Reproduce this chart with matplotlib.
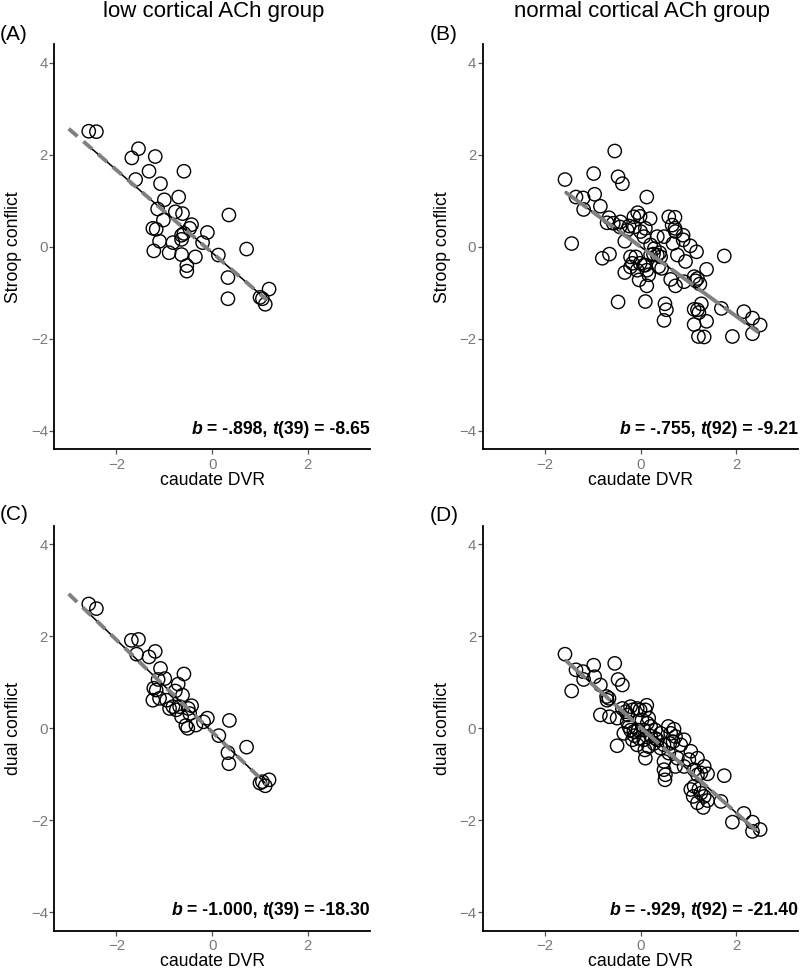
import matplotlib
matplotlib.use('Agg')
import matplotlib.pyplot as plt
import numpy as np
from matplotlib.offsetbox import TextArea, HPacker, AnchoredOffsetbox

plt.rcParams['font.family'] = ['Liberation Sans', 'DejaVu Sans']

# ---- data (z-scores) ----
# (A) low cortical ACh group: caudate DVR vs Stroop conflict
low_x_a = [-2.58, -2.42, -1.54, -1.68, -1.19, -1.32, -0.59, -1.60, -1.08, -1.00,
           -0.70, -1.14, -0.77, -0.62, 0.35, -1.02, -0.43, -1.24, -1.17, -0.47,
           -0.10, -0.64, -1.10, -0.82, -0.64, -0.20, -1.22, -0.90, -0.64, -0.35,
           0.13, 0.72, -0.53, -0.53, 0.33, 0.33, 1.19, 1.05, 1.11, -0.59, 1.00]
stroop_low = [2.51, 2.50, 2.13, 1.93, 1.96, 1.64, 1.64, 1.46, 1.37, 1.02,
              1.08, 0.82, 0.76, 0.72, 0.69, 0.58, 0.48, 0.40, 0.38, 0.40,
              0.31, 0.25, 0.12, 0.09, 0.16, 0.09, -0.09, -0.13, -0.17, -0.22,
              -0.18, -0.05, -0.41, -0.53, -0.67, -1.13, -0.92, -1.13, -1.25, 0.29, -1.10]

# (C) low cortical ACh group: caudate DVR vs dual conflict
low_x_c = [-2.58, -2.42, -1.69, -1.54, -1.58, -1.32, -1.19, -1.08, -0.99, -1.13,
           -0.59, -0.71, -0.77, -1.22, -1.17, -1.24, -1.10, -0.62, -0.89, -0.82,
           -0.68, -0.64, -0.43, -0.50, -0.55, -0.51, -0.34, -0.18, -0.10, 0.36,
           0.14, 0.72, 0.33, 0.35, 1.05, 1.19, 1.11, -0.95, -0.47, 1.00, -0.75]
dual_low = [2.70, 2.60, 1.91, 1.93, 1.61, 1.55, 1.67, 1.30, 1.08, 1.06,
            1.18, 0.96, 0.81, 0.87, 0.83, 0.61, 0.65, 0.72, 0.43, 0.47,
            0.47, 0.25, 0.49, 0.43, 0.06, 0.00, 0.07, 0.14, 0.22, 0.17,
            -0.16, -0.41, -0.53, -0.77, -1.16, -1.12, -1.25, 0.61, 0.32, -1.19, 0.40]

# (B) normal cortical ACh group: caudate DVR vs Stroop conflict
norm_x_b = [-1.58, -1.44, -1.35, -1.20, -1.19, -0.98, -0.96, -0.84, -0.54, -0.47,
            -0.38, 0.13, -0.66, -0.70, -0.57, -0.43, -0.28, -0.14, -0.06, -0.01,
            0.20, -0.13, 0.00, 0.10, 0.07, -0.33, -0.80, -0.65, -0.33, -0.21,
            -0.17, -0.10, -0.01, 0.10, 0.13, -0.03, 0.13, -0.47, 0.10, 0.21,
            0.29, 0.35, 0.42, 0.35, 0.49, 0.38, 0.44, 0.59, 0.72, 0.72,
            0.73, 0.68, 0.89, 0.77, 0.63, 0.73, 0.91, 0.94, 1.04, 1.17,
            1.12, 1.19, 1.24, 1.38, 1.75, 0.51, 0.54, 0.49, 1.12, 1.19,
            1.27, 1.22, 1.12, 1.38, 1.21, 1.33, 1.69, 1.92, 2.16, 2.34,
            2.34, 2.50, -0.21, 0.21, 0.27, 0.40, 0.17, -0.24, -0.42, 0.66,
            0.89, 1.15, 0.07, -0.07]
stroop_norm = [1.46, 0.07, 1.08, 1.06, 0.81, 1.59, 1.14, 0.88, 2.08, 1.52,
               1.37, 1.08, 0.63, 0.52, 0.51, 0.43, 0.36, 0.65, 0.74, 0.66,
               0.61, 0.43, 0.33, 0.40, 0.22, 0.12, -0.25, -0.16, -0.56, -0.22,
               -0.36, -0.22, -0.36, -0.40, -0.51, -0.72, -0.85, -1.20, -1.19, 0.04,
               -0.04, -0.18, -0.22, 0.22, 0.22, -0.43, -0.47, 0.65, 0.64, 0.40,
               0.33, 0.07, 0.25, -0.18, -0.71, -0.85, -0.76, -0.32, 0.02, -0.11,
               -0.65, -0.69, -0.81, -0.49, -0.20, -1.24, -1.37, -1.60, -1.36, -1.37,
               -1.24, -1.43, -1.69, -1.62, -1.95, -1.96, -1.34, -1.95, -1.41, -1.55,
               -1.89, -1.70, -0.44, -0.18, -0.16, -0.13, -0.61, 0.45, 0.54, 0.47,
               0.15, -0.74, -0.40, -0.51]

# (D) normal cortical ACh group: caudate DVR vs dual conflict
norm_x_d = [-1.58, -1.44, -1.35, -1.20, -1.19, -0.98, -0.96, -0.84, -0.54, -0.47,
            -0.38, 0.13, -0.71, -0.70, -0.84, -0.65, -0.49, -0.38, -0.31, -0.27,
            -0.17, -0.07, -0.01, -0.35, -0.24, -0.21, -0.14, -0.03, -0.07, 0.09,
            0.10, 0.03, 0.17, 0.14, 0.07, 0.21, 0.31, 0.35, 0.42, 0.28,
            0.58, 0.70, 0.73, 0.68, 0.91, 0.49, 0.52, 0.51, 0.59, 0.77,
            0.91, 0.73, 1.05, 1.19, 1.12, 1.26, 1.19, 1.40, 1.75, 1.12,
            1.22, 1.10, 1.26, 1.19, 1.31, 1.40, 1.68, 1.92, 2.16, 2.34,
            2.34, 2.50, -0.49, 0.07, 0.49, 0.63, -0.17, 0.17, 1.01, 1.33,
            -0.28, -0.13, 0.42, 0.84, 0.21, 0.10, -0.05, 0.49, 0.61, 1.05,
            1.33, -0.66, -0.21, 0.31]
dual_norm = [1.61, 0.81, 1.27, 1.23, 1.06, 1.37, 1.12, 0.94, 1.41, 1.06,
             0.94, 0.50, 0.69, 0.61, 0.29, 0.25, -0.38, 0.43, 0.36, 0.29,
             0.40, 0.43, 0.40, -0.11, 0.03, -0.04, -0.07, -0.22, -0.36, -0.47,
             -0.65, 0.18, 0.22, 0.11, -0.04, -0.17, -0.04, -0.25, -0.43, -0.33,
             0.04, -0.02, -0.18, -0.29, -0.25, -0.90, -1.01, -1.12, -0.54, -0.65,
             -0.83, -0.83, -0.50, -0.65, -0.90, -0.97, -1.01, -0.99, -1.03, -1.26,
             -1.32, -1.48, -1.41, -1.62, -1.72, -1.57, -1.59, -2.04, -1.85, -2.04,
             -2.24, -2.20, 0.22, -0.25, -0.36, -0.11, -0.25, -0.40, -0.68, -0.83,
             0.14, -0.16, -0.11, -0.36, 0.04, 0.40, -0.04, -0.72, -0.33, -1.33,
             -1.48, 0.65, 0.47, -0.22]

# fitted lines: slope, intercept, x-range of gray dashed line, x-range of black line
fit_a = (-0.898, -0.13, (-3.0, 1.14), (-2.56, 1.14))
fit_b = (-0.755, 0.00, (-1.57, 2.47), (-1.57, 2.47))
fit_c = (-1.000, -0.08, (-3.0, 1.14), (-2.56, 1.14))
fit_d = (-0.929, 0.02, (-1.57, 2.47), (-1.57, 2.47))

stats_a = ('-.898', '39', '-8.65')
stats_b = ('-.755', '92', '-9.21')
stats_c = ('-1.000', '39', '-18.30')
stats_d = ('-.929', '92', '-21.40')

col_titles = ['low cortical ACh group', 'normal cortical ACh group']
panel_tags = ['(A)', '(B)', '(C)', '(D)']

fig = plt.figure(figsize=(8, 9.72), dpi=100)

lefts = [0.0679, 0.6034]
bottoms = [0.5378, 0.0424]
w, h = 0.3946, 0.4167

panels = [
    (0, 0, low_x_a, stroop_low, fit_a, stats_a, 'Stroop conflict', (3, 2)),
    (1, 0, norm_x_b, stroop_norm, fit_b, stats_b, 'Stroop conflict', (7, 1.4)),
    (0, 1, low_x_c, dual_low, fit_c, stats_c, 'dual conflict', (3, 2)),
    (1, 1, norm_x_d, dual_norm, fit_d, stats_d, 'dual conflict', (7, 1.4)),
]

for col, row, xs, ys, fit, st, ylab, dash in panels:
    ax = fig.add_axes([lefts[col], bottoms[row], w, h])
    ax.scatter(xs, ys, s=92, facecolors='none', edgecolors='black', linewidths=1.0, zorder=2)

    slope, icpt, rng_dash, rng_solid = fit
    xx = np.array(rng_solid)
    ax.plot(xx, icpt + slope * xx, color='black', lw=1.1, zorder=3)
    xx = np.array(rng_dash)
    ax.plot(xx, icpt + slope * xx, color='#808080', lw=2.8, dashes=dash, zorder=4)

    ax.set_xlim(-3.3, 3.3)
    ax.set_ylim(-4.4, 4.4)
    ax.set_xticks([-2, 0, 2])
    ax.set_yticks([-4, -2, 0, 2, 4])
    ax.set_xticklabels(['\u22122', '0', '2'])
    ax.set_yticklabels(['\u22124', '\u22122', '0', '2', '4'])
    ax.tick_params(direction='out', length=3.4, width=0.9, color='#555555',
                   labelcolor='#7a7a7a', labelsize=10.8)
    ax.tick_params(axis='x', pad=2.8)
    ax.tick_params(axis='y', pad=1.2)
    for s in ['top', 'right']:
        ax.spines[s].set_visible(False)
    for s in ['left', 'bottom']:
        ax.spines[s].set_linewidth(1.3)
    ax.set_xlabel('caudate DVR', fontsize=12.7, labelpad=0)
    ax.set_ylabel(ylab, fontsize=12.7, labelpad=6)

    # stats annotation, b and t bold italic
    tp = dict(fontsize=12.7, fontweight='bold', color='black')
    tpi = dict(fontsize=12.7, fontweight='bold', fontstyle='italic', color='black')
    parts = [TextArea('b', textprops=tpi),
             TextArea(' = %s, ' % st[0], textprops=tp),
             TextArea('t', textprops=tpi),
             TextArea('(%s) = %s' % (st[1], st[2]), textprops=tp)]
    box = HPacker(children=parts, align='baseline', pad=0, sep=0)
    anch = AnchoredOffsetbox(loc='lower right', child=box, pad=0, borderpad=0,
                             frameon=False, bbox_to_anchor=(1.0, 0.028),
                             bbox_transform=ax.transAxes)
    ax.add_artist(anch)

# column titles and panel tags
fig.text(214 / 800, 1 - 17 / 972, col_titles[0], ha='center', va='baseline', fontsize=16)
fig.text(642 / 800, 1 - 17 / 972, col_titles[1], ha='center', va='baseline', fontsize=16)
tag_pos = [(0.0, 1 - 40 / 972), (430 / 800, 1 - 40 / 972),
           (0.0, 1 - 520 / 972), (430 / 800, 1 - 521 / 972)]
for tag, (tx, ty) in zip(panel_tags, tag_pos):
    fig.text(tx, ty, tag, ha='left', va='baseline', fontsize=15)

plt.savefig('out.png', dpi=100)
